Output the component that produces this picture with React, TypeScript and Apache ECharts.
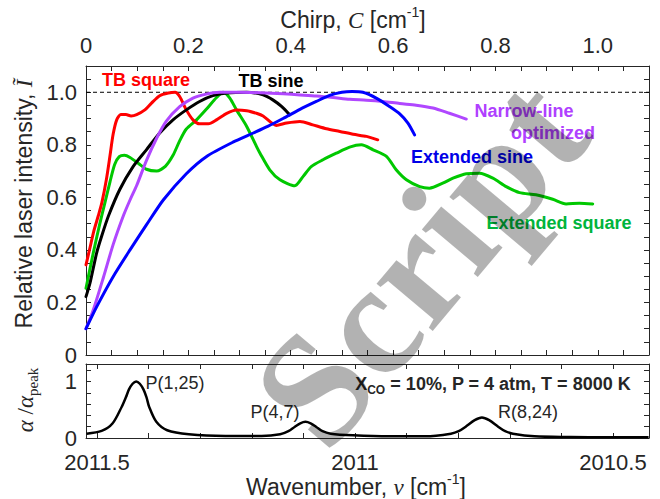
import React, { useEffect, useRef } from 'react';
import * as echarts from 'echarts';

// ---------------- Data ----------------
const chirpTicks = [0, 0.05, 0.1, 0.15, 0.2, 0.25, 0.3, 0.35, 0.4, 0.45, 0.5, 0.55, 0.6, 0.65, 0.7, 0.75, 0.8, 0.85, 0.9, 0.95, 1.0, 1.05];
const chirpTickLabels = [0, 0.2, 0.4, 0.6, 0.8, 1.0];
const intensityTicks = [0, 0.05, 0.1, 0.15, 0.2, 0.25, 0.3, 0.35, 0.4, 0.45, 0.5, 0.55, 0.6, 0.65, 0.7, 0.75, 0.8, 0.85, 0.9, 0.95, 1.0, 1.05];
const intensityTickLabels = [0, 0.2, 0.4, 0.6, 0.8, 1.0];
const wavenumberTicks = [2011.5, 2011.4, 2011.3, 2011.2, 2011.1, 2011.0, 2010.9, 2010.8, 2010.7, 2010.6, 2010.5];
const wavenumberTickLabels = [2011.5, 2011, 2010.5];
const alphaTicks = [0, 0.2, 0.4, 0.6, 0.8, 1.0, 1.2];
const alphaTickLabels = [0, 1];

const tbSquareC = [0, 0.008, 0.015, 0.024, 0.031, 0.04, 0.047, 0.053, 0.06, 0.068, 0.078, 0.088, 0.099, 0.115, 0.128, 0.144, 0.161, 0.174, 0.183, 0.196, 0.209, 0.222, 0.239, 0.255, 0.275, 0.294, 0.314, 0.333, 0.346, 0.372, 0.392, 0.418, 0.443, 0.47, 0.496, 0.522, 0.548, 0.57];
const tbSquareI = [0.343, 0.41, 0.47, 0.53, 0.58, 0.67, 0.76, 0.84, 0.895, 0.915, 0.915, 0.91, 0.915, 0.933, 0.959, 0.987, 0.997, 1.0, 0.984, 0.933, 0.895, 0.88, 0.88, 0.895, 0.92, 0.933, 0.93, 0.92, 0.91, 0.874, 0.883, 0.889, 0.876, 0.861, 0.851, 0.84, 0.832, 0.819];

const tbSineC = [0, 0.008, 0.021, 0.031, 0.044, 0.066, 0.092, 0.118, 0.144, 0.17, 0.196, 0.222, 0.248, 0.275, 0.314, 0.346, 0.365, 0.382, 0.398];
const tbSineI = [0.222, 0.275, 0.39, 0.455, 0.53, 0.63, 0.717, 0.781, 0.845, 0.895, 0.933, 0.965, 0.987, 0.997, 1.0, 0.99, 0.971, 0.946, 0.914];

const narrowC = [0, 0.014, 0.034, 0.053, 0.073, 0.086, 0.099, 0.118, 0.138, 0.157, 0.183, 0.209, 0.235, 0.261, 0.3, 0.34, 0.385, 0.418, 0.45, 0.483, 0.515, 0.548, 0.58, 0.613, 0.645, 0.678, 0.71, 0.743];
const narrowI = [0.1, 0.17, 0.295, 0.42, 0.53, 0.59, 0.645, 0.74, 0.825, 0.89, 0.945, 0.978, 0.993, 1.0, 1.0, 0.998, 0.994, 0.99, 0.986, 0.98, 0.973, 0.97, 0.965, 0.957, 0.951, 0.94, 0.92, 0.898];

const extSineC = [0, 0.021, 0.053, 0.086, 0.118, 0.151, 0.196, 0.235, 0.287, 0.327, 0.355, 0.385, 0.418, 0.45, 0.476, 0.5, 0.52, 0.541, 0.567, 0.593, 0.613, 0.629, 0.642];
const extSineI = [0.1, 0.184, 0.298, 0.4, 0.495, 0.59, 0.69, 0.755, 0.81, 0.845, 0.87, 0.9, 0.935, 0.965, 0.988, 1.0, 1.003, 1.0, 0.978, 0.946, 0.918, 0.883, 0.838];

const extSquareC = [0, 0.014, 0.027, 0.037, 0.047, 0.056, 0.065, 0.075, 0.086, 0.102, 0.118, 0.138, 0.155, 0.17, 0.183, 0.196, 0.216, 0.235, 0.255, 0.268, 0.281, 0.294, 0.314, 0.333, 0.34, 0.359, 0.379, 0.408, 0.424, 0.44, 0.463, 0.489, 0.515, 0.538, 0.561, 0.587, 0.606, 0.626, 0.652, 0.671, 0.697, 0.717, 0.743, 0.769, 0.795, 0.821, 0.847, 0.879, 0.912, 0.938, 0.964, 0.99];
const extSquareI = [0.254, 0.387, 0.5, 0.58, 0.66, 0.725, 0.755, 0.76, 0.752, 0.73, 0.707, 0.7, 0.718, 0.76, 0.815, 0.86, 0.895, 0.935, 0.98, 1.0, 0.978, 0.933, 0.87, 0.794, 0.768, 0.705, 0.667, 0.644, 0.679, 0.717, 0.743, 0.768, 0.791, 0.8, 0.781, 0.756, 0.705, 0.667, 0.641, 0.635, 0.654, 0.673, 0.69, 0.692, 0.673, 0.641, 0.618, 0.61, 0.593, 0.575, 0.578, 0.575];

const refLevelC = [0, 1.1];
const refLevelI = [1.0, 1.0];

const absNu = [2011.52, 2011.491, 2011.47, 2011.452, 2011.444, 2011.438, 2011.431, 2011.424, 2011.417, 2011.41, 2011.404, 2011.399, 2011.385, 2011.364, 2011.322, 2011.251, 2011.181, 2011.145, 2011.129, 2011.117, 2011.106, 2011.096, 2011.086, 2011.075, 2011.063, 2011.047, 2011.004, 2010.934, 2010.863, 2010.814, 2010.799, 2010.786, 2010.768, 2010.754, 2010.74, 2010.722, 2010.709, 2010.694, 2010.652, 2010.582, 2010.511, 2010.431];
const absVal = [0.077, 0.125, 0.256, 0.554, 0.72, 0.86, 0.96, 1.0, 0.96, 0.86, 0.72, 0.554, 0.286, 0.137, 0.065, 0.036, 0.036, 0.065, 0.12, 0.196, 0.26, 0.286, 0.26, 0.196, 0.12, 0.077, 0.048, 0.03, 0.03, 0.077, 0.12, 0.196, 0.315, 0.363, 0.315, 0.196, 0.12, 0.077, 0.03, 0.018, 0.012, 0.012];

// ---------------- Styling ----------------
const SANS = '"Liberation Sans", Arial, sans-serif';
const SERIF = '"Liberation Serif", "Times New Roman", serif';
const AX = '#262626';

const zip = (a: number[], b: number[]) => a.map((v, i) => [v, b[i]]);
const fmt1 = (v: number) => (Math.abs(v) < 1e-9 ? '0' : v.toFixed(1));

function axisBase(extra: any) {
  return {
    type: 'value',
    axisLine: { show: true, onZero: false, lineStyle: { color: AX, width: 1 } },
    splitLine: { show: false },
    ...extra,
  };
}

function txt(x: number, y: number, text: string, fill: string, opts: any = {}) {
  return {
    type: 'text',
    x,
    y,
    z: 50,
    rotation: opts.rotation || 0,
    style: {
      text,
      fill,
      fontSize: opts.fontSize || 18,
      fontWeight: opts.fontWeight || 'normal',
      fontFamily: SANS,
      align: 'center',
      verticalAlign: 'middle',
      textAlign: 'center',
      textVerticalAlign: 'middle',
      rich: opts.rich,
    },
  };
}

const labelRich = {
  n: { fontSize: 23, fontFamily: SANS, fill: AX, color: AX, lineHeight: 30 },
  i: { fontSize: 23, fontFamily: SERIF, fontStyle: 'italic', fill: AX, color: AX, lineHeight: 30 },
  r: { fontSize: 23, fontFamily: SERIF, fill: AX, color: AX, lineHeight: 30 },
  s: { fontSize: 14, fontFamily: SANS, fill: AX, color: AX, lineHeight: 14, verticalAlign: 'top' },
  sub: { fontSize: 15, fontFamily: SERIF, fill: AX, color: AX, lineHeight: 14, verticalAlign: 'bottom' },
};

const condRich = {
  b: { fontSize: 18, fontFamily: SANS, fontWeight: 'bold', fill: AX, color: AX, lineHeight: 24 },
  bs: { fontSize: 12, fontFamily: SANS, fontWeight: 'bold', fill: AX, color: AX, lineHeight: 10, verticalAlign: 'bottom' },
};

function lineSeries(name: string, c: number[], v: number[], color: string) {
  return {
    name,
    type: 'line',
    xAxisIndex: 0,
    yAxisIndex: 0,
    data: zip(c, v),
    showSymbol: false,
    symbol: 'none',
    smooth: 0.25,
    lineStyle: { color, width: 3, cap: 'round', join: 'round' },
    itemStyle: { color },
    z: 3,
  };
}

const option: any = {
  animation: false,
  backgroundColor: '#ffffff',
  grid: [
    { left: 86, top: 66, width: 563, height: 289, containLabel: false },
    { left: 86, top: 364, width: 563, height: 74, containLabel: false },
  ],
  xAxis: [
    axisBase({
      gridIndex: 0, position: 'top', min: 0, max: 1.1,
      axisTick: { show: true, inside: true, length: 5, customValues: chirpTicks, lineStyle: { color: AX } },
      axisLabel: { show: true, customValues: chirpTickLabels, formatter: fmt1, fontSize: 22, fontFamily: SANS, color: AX, margin: 10 },
    }),
    axisBase({
      gridIndex: 0, position: 'bottom', min: 0, max: 1.1,
      axisTick: { show: true, inside: true, length: 5, customValues: chirpTicks, lineStyle: { color: AX } },
      axisLabel: { show: false },
    }),
    axisBase({
      gridIndex: 1, position: 'bottom', min: 2010.4302, max: 2011.5213, inverse: true,
      axisTick: { show: true, inside: true, length: 5, customValues: wavenumberTicks, lineStyle: { color: AX } },
      axisLabel: { show: true, customValues: wavenumberTickLabels, formatter: (v: number) => String(v), fontSize: 22, fontFamily: SANS, color: AX, margin: 13 },
    }),
    axisBase({
      gridIndex: 1, position: 'top', min: 2010.4302, max: 2011.5213, inverse: true,
      axisTick: { show: true, inside: true, length: 5, customValues: wavenumberTicks, lineStyle: { color: AX } },
      axisLabel: { show: false },
    }),
  ],
  yAxis: [
    axisBase({
      gridIndex: 0, position: 'left', min: 0, max: 1.1,
      axisTick: { show: true, inside: true, length: 5, customValues: intensityTicks, lineStyle: { color: AX } },
      axisLabel: { show: true, customValues: intensityTickLabels, formatter: fmt1, fontSize: 22, fontFamily: SANS, color: AX, margin: 9 },
    }),
    axisBase({
      gridIndex: 0, position: 'right', min: 0, max: 1.1,
      axisTick: { show: true, inside: true, length: 5, customValues: intensityTicks, lineStyle: { color: AX } },
      axisLabel: { show: false },
    }),
    axisBase({
      gridIndex: 1, position: 'left', min: 0, max: 1.31,
      axisTick: { show: true, inside: true, length: 5, customValues: alphaTicks, lineStyle: { color: AX } },
      axisLabel: { show: true, customValues: alphaTickLabels, formatter: (v: number) => String(v), fontSize: 22, fontFamily: SANS, color: AX, margin: 9 },
    }),
    axisBase({
      gridIndex: 1, position: 'right', min: 0, max: 1.31,
      axisTick: { show: true, inside: true, length: 5, customValues: alphaTicks, lineStyle: { color: AX } },
      axisLabel: { show: false },
    }),
  ],
  series: [
    {
      name: 'ref', type: 'line', xAxisIndex: 0, yAxisIndex: 0, data: zip(refLevelC, refLevelI),
      showSymbol: false, symbol: 'none', lineStyle: { color: '#000', width: 1, type: [4, 3] }, z: 2,
    },
    lineSeries('Extended square', extSquareC, extSquareI, '#00c800'),
    lineSeries('TB square', tbSquareC, tbSquareI, '#ff0000'),
    lineSeries('TB sine', tbSineC, tbSineI, '#000000'),
    lineSeries('Narrow-line optimized', narrowC, narrowI, '#b047ff'),
    lineSeries('Extended sine', extSineC, extSineI, '#0000ff'),
    {
      name: 'absorbance', type: 'line', xAxisIndex: 2, yAxisIndex: 2, data: zip(absNu, absVal),
      showSymbol: false, symbol: 'none', smooth: 0.3,
      lineStyle: { color: '#000', width: 2.5 }, z: 3,
    },
  ],
  graphic: [
    txt(353, 20, '{n|Chirp, }{i|C}{n| [cm}{s|-1}{n|]}', AX, { rich: labelRich }),
    txt(24, 204, '{n|Relative laser intensity, }{i|Ĩ}', AX, { rich: labelRich, rotation: Math.PI / 2 }),
    txt(356, 487, '{n|Wavenumber, }{i|ν}{n| [cm}{s|-1}{n|]}', AX, { rich: labelRich }),
    txt(25, 400, '{i|α}{r| /}{i|α}{sub|peak}', AX, { rich: labelRich, rotation: Math.PI / 2 }),
    txt(146, 80, 'TB square', '#ff0000', { fontWeight: 'bold' }),
    txt(271, 81, 'TB sine', '#000000', { fontWeight: 'bold' }),
    txt(524, 111, 'Narrow-line', '#b040ff', { fontWeight: 'bold' }),
    txt(553, 133, 'optimized', '#b040ff', { fontWeight: 'bold' }),
    txt(472, 157, 'Extended sine', '#0000e6', { fontWeight: 'bold' }),
    txt(559, 223, 'Extended square', '#00b43c', { fontWeight: 'bold' }),
    txt(493, 384, '{b|X}{bs|CO}{b| = 10%, P = 4 atm, T = 8000 K}', AX, { rich: condRich }),
    txt(175, 383, 'P(1,25)', AX, {}),
    txt(275, 412, 'P(4,7)', AX, {}),
    txt(528, 412, 'R(8,24)', AX, {}),
    {
      type: 'text', x: 420, y: 262, z: 100, silent: true,
      rotation: (50 * Math.PI) / 180,
      style: {
        text: 'Script', fill: 'rgba(0,0,0,0.3)', fontSize: 160, fontWeight: 'bold', fontFamily: SERIF,
        align: 'center', verticalAlign: 'middle', textAlign: 'center', textVerticalAlign: 'middle',
      },
    },
  ],
};

export default function App() {
  const ref = useRef<HTMLDivElement>(null);
  useEffect(() => {
    const chart = echarts.init(ref.current as HTMLDivElement, null, { renderer: 'svg' });
    chart.setOption(option);
    return () => chart.dispose();
  }, []);
  return (
    <div
      ref={ref}
      style={{ position: 'absolute', left: 0, top: 0, width: 660, height: 499, background: '#fff' }}
    />
  );
}
